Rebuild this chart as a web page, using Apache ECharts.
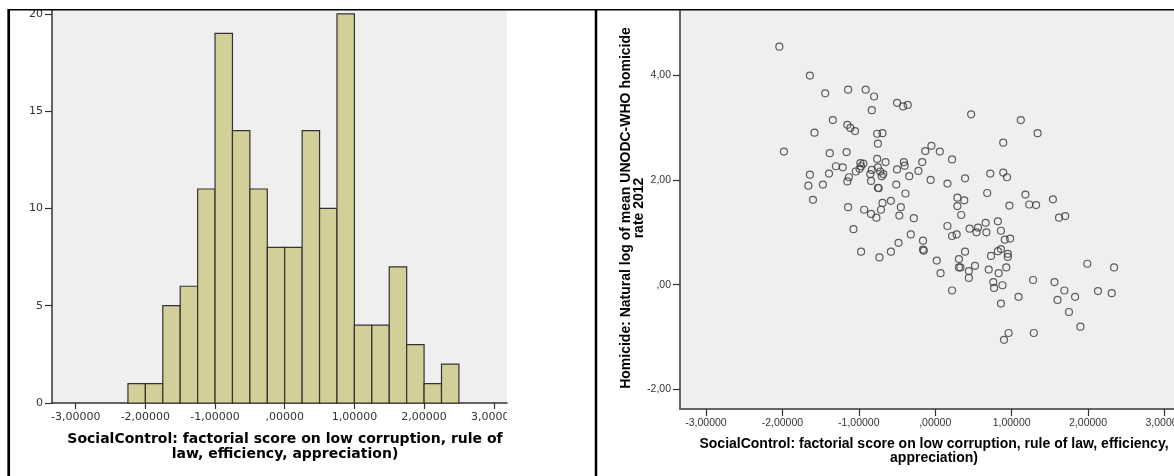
<!DOCTYPE html>
<html>
<head>
<meta charset="utf-8">
<script src="https://cdn.jsdelivr.net/npm/echarts@6/dist/echarts.min.js"></script>
<style>
    html, body { margin: 0; padding: 0; background: #fff; }
    #chart { width: 1174px; height: 476px; }
</style>
</head>
<body>
<div id="chart"></div>
<script type="text/javascript">
// histogram bins (left edge, right edge) and frequency
var binLeft  = [-2.25, -2.00, -1.75, -1.50, -1.25, -1.00, -0.75, -0.50, -0.25, 0.00, 0.25, 0.50, 0.75, 1.00, 1.25, 1.50, 1.75, 2.00, 2.25];
var binRight = [-2.00, -1.75, -1.50, -1.25, -1.00, -0.75, -0.50, -0.25, 0.00, 0.25, 0.50, 0.75, 1.00, 1.25, 1.50, 1.75, 2.00, 2.25, 2.50];
var binCount = [1, 1, 5, 6, 11, 19, 14, 11, 8, 8, 14, 10, 20, 4, 4, 7, 3, 1, 2];

// scatter: social control score vs ln homicide rate
var socialControl = [
    -2.04, -1.64, -1.44, -1.14, -0.91, -0.80, -0.50, -0.42, -0.36, -0.83,
    -1.34, -1.15, -1.11, -1.05, -1.58, -0.76, -0.69, -0.75, -1.98, -1.38,
    -1.16, -0.05, -0.13, 0.06, 0.22, -0.76, -0.65, -1.30, -1.21, -0.98,
    -0.94, -0.97, -0.99, -1.04, -0.83, -0.75, -0.72, -0.68, -0.70, -0.41,
    -0.40, -0.50, -0.17, -0.22, -0.34, -0.06, 0.16, -1.64, -1.39, -1.13,
    -1.15, -0.85, -0.84, -1.66, -1.47, -0.75, -0.74, -0.51, -0.39, 0.47,
    1.12, 1.34, 0.89, 0.39, 0.72, 0.89, 0.94, 0.68, 1.18, 1.54,
    0.29, 0.38, 0.29, 0.34, 0.97, 1.23, 1.32, 1.62, 1.70, 0.16,
    0.45, 0.56, 0.54, 0.66, 0.67, 0.82, 0.86, 0.98, 0.91, 0.22,
    0.28, -1.14, -0.93, -0.84, -0.77, -0.71, -0.69, -0.58, -0.45, -0.47,
    -0.28, -1.07, -0.32, -0.48, -0.16, -0.16, -0.15, -0.97, -0.73, -0.58,
    0.02, 0.07, 0.22, 0.39, 0.31, 0.31, 0.33, 0.44, 0.52, 0.44,
    0.70, 0.83, 0.93, 0.73, 0.82, 0.86, 0.95, 0.95, 0.76, 0.77,
    0.88, 0.86, 1.09, 0.96, 0.90, 1.28, 1.29, 1.56, 1.69, 1.60,
    1.83, 1.75, 1.90, 1.99, 2.34, 2.13, 2.31, -1.60
];
var homicide = [
    4.54, 3.99, 3.65, 3.72, 3.72, 3.59, 3.47, 3.40, 3.43, 3.33,
    3.14, 3.05, 2.99, 2.93, 2.90, 2.88, 2.89, 2.69, 2.54, 2.51,
    2.53, 2.65, 2.55, 2.54, 2.39, 2.40, 2.34, 2.26, 2.24, 2.32,
    2.31, 2.26, 2.21, 2.16, 2.19, 2.24, 2.16, 2.11, 2.07, 2.34,
    2.27, 2.20, 2.34, 2.17, 2.07, 2.00, 1.93, 2.10, 2.12, 2.05,
    1.97, 2.11, 1.98, 1.89, 1.91, 1.85, 1.84, 1.91, 1.74, 3.25,
    3.14, 2.89, 2.71, 2.03, 2.12, 2.14, 2.05, 1.75, 1.72, 1.63,
    1.66, 1.61, 1.50, 1.33, 1.51, 1.53, 1.52, 1.28, 1.31, 1.12,
    1.07, 1.09, 1.00, 1.18, 1.00, 1.21, 1.03, 0.88, 0.86, 0.93,
    0.96, 1.48, 1.43, 1.35, 1.28, 1.43, 1.56, 1.60, 1.48, 1.32,
    1.27, 1.06, 0.96, 0.80, 0.84, 0.67, 0.65, 0.63, 0.52, 0.63,
    0.46, 0.22, -0.11, 0.63, 0.49, 0.33, 0.33, 0.26, 0.36, 0.13,
    0.29, 0.22, 0.33, 0.55, 0.64, 0.68, 0.59, 0.53, 0.05, -0.06,
    -0.01, -0.36, -0.23, -0.92, -1.05, 0.09, -0.92, 0.05, -0.11, -0.29,
    -0.23, -0.52, -0.80, 0.40, 0.33, -0.12, -0.16, 1.62
];

// tick values
var xTicks = [-3, -2, -1, 0, 1, 2, 3];
var histYTicks = [0, 5, 10, 15, 20];
var scatterYTicks = [-2, 0, 2, 4];

// SPSS style number: comma decimal, no leading zero
function spssNum(v, d) {
    var s = Math.abs(v).toFixed(d).replace('.', ',');
    if (s.charAt(0) === '0' && s.length > 1) s = s.substring(1);
    return (v < 0 ? '-' : '') + s;
}

var histData = binLeft.map(function (l, i) { return [l, binRight[i], binCount[i]]; });
var scatterData = socialControl.map(function (x, i) { return [x, homicide[i]]; });

var leftFont = 'DejaVu Sans';
var rightFont = 'Liberation Sans';

var chart = echarts.init(document.getElementById('chart'));
var option = {
    backgroundColor: '#ffffff',
    animation: false,
    grid: [
        { left: 52, top: 10, width: 455, height: 393, show: true, backgroundColor: '#efefef', borderWidth: 0, outerBoundsMode: 'none', containLabel: false },
        { left: 680, top: 10, width: 499, height: 399, show: true, backgroundColor: '#efefef', borderWidth: 0, outerBoundsMode: 'none', containLabel: false }
    ],
    xAxis: [
        {
            gridIndex: 0, type: 'value', min: -3.34, max: 3.19,
            axisLine: { show: true, onZero: false, lineStyle: { color: '#333', width: 1.5 } },
            axisTick: { show: true, length: 6, customValues: xTicks, lineStyle: { color: '#333', width: 1.2 } },
            axisLabel: { customValues: xTicks, margin: 9, color: '#333', fontFamily: leftFont, fontSize: 11,
                formatter: function (v) { return spssNum(v, 5); } },
            splitLine: { show: false }
        },
        {
            gridIndex: 1, type: 'value', min: -3.34, max: 3.19,
            axisLine: { show: true, onZero: false, lineStyle: { color: '#666', width: 2 } },
            axisTick: { show: true, length: 7, customValues: xTicks, lineStyle: { color: '#333', width: 1.2 } },
            axisLabel: { customValues: xTicks, margin: 9, color: '#333', fontFamily: rightFont, fontSize: 10.5,
                formatter: function (v) { return spssNum(v, 5); } },
            splitLine: { show: false }
        }
    ],
    yAxis: [
        {
            gridIndex: 0, type: 'value', min: 0, max: 20.2,
            axisLine: { show: true, onZero: false, lineStyle: { color: '#333', width: 1.5 } },
            axisTick: { show: true, length: 7, customValues: histYTicks, lineStyle: { color: '#333', width: 1.2 } },
            axisLabel: { customValues: histYTicks, margin: 9, color: '#333', fontFamily: leftFont, fontSize: 11 },
            splitLine: { show: false }
        },
        {
            gridIndex: 1, type: 'value', min: -2.37, max: 5.24,
            axisLine: { show: true, onZero: false, lineStyle: { color: '#666', width: 2 } },
            axisTick: { show: true, length: 7, customValues: scatterYTicks, lineStyle: { color: '#333', width: 1.2 } },
            axisLabel: { customValues: scatterYTicks, margin: 9, color: '#333', fontFamily: rightFont, fontSize: 10.5,
                formatter: function (v) { return spssNum(v, 2); } },
            splitLine: { show: false }
        }
    ],
    series: [
        {
            // histogram bars
            type: 'custom',
            xAxisIndex: 0, yAxisIndex: 0,
            data: histData,
            renderItem: function (params, api) {
                var top = api.coord([api.value(0), api.value(2)]);
                var base = api.coord([api.value(1), 0]);
                return {
                    type: 'rect',
                    shape: { x: top[0], y: top[1], width: base[0] - top[0], height: base[1] - top[1] },
                    style: { fill: '#d3cf98', stroke: '#333', lineWidth: 1.2 }
                };
            }
        },
        {
            type: 'scatter',
            xAxisIndex: 1, yAxisIndex: 1,
            data: scatterData,
            symbol: 'circle',
            symbolSize: 7,
            itemStyle: { color: 'rgba(0,0,0,0)', borderColor: '#3a3a3a', borderWidth: 1.2 }
        }
    ],
    graphic: [
        // the left picture is cut off just right of its plot area
        { type: 'rect', shape: { x: 507, y: 405, width: 86, height: 22 }, style: { fill: '#fff' }, z: 90 },
        // outer frame
        { type: 'line', shape: { x1: 8, y1: 9.7, x2: 1174, y2: 9.7 }, style: { stroke: '#000', lineWidth: 1.5 }, z: 100 },
        { type: 'line', shape: { x1: 8.7, y1: 9, x2: 8.7, y2: 476 }, style: { stroke: '#000', lineWidth: 2.7 }, z: 100 },
        { type: 'line', shape: { x1: 596, y1: 9, x2: 596, y2: 476 }, style: { stroke: '#000', lineWidth: 2.5 }, z: 100 },
        // axis titles
        {
            type: 'text', x: 285, y: 432,
            style: {
                text: 'SocialControl: factorial score on low corruption, rule of\nlaw, efficiency, appreciation)',
                font: 'bold 14px "DejaVu Sans"', fill: '#000', align: 'center', verticalAlign: 'top', lineHeight: 15
            }
        },
        {
            type: 'text', x: 934, y: 437,
            style: {
                text: 'SocialControl: factorial score on low corruption, rule of law, efficiency,\nappreciation)',
                font: 'bold 14px "Liberation Sans"', fill: '#000', align: 'center', verticalAlign: 'top', lineHeight: 14
            }
        },
        {
            type: 'text', x: 633, y: 208, rotation: Math.PI / 2,
            style: {
                text: 'Homicide: Natural log of mean UNODC-WHO homicide\nrate 2012',
                font: 'bold 14px "Liberation Sans"', fill: '#000', align: 'center', verticalAlign: 'middle', lineHeight: 13
            }
        }
    ]
};
chart.setOption(option);
</script>
</body>
</html>
